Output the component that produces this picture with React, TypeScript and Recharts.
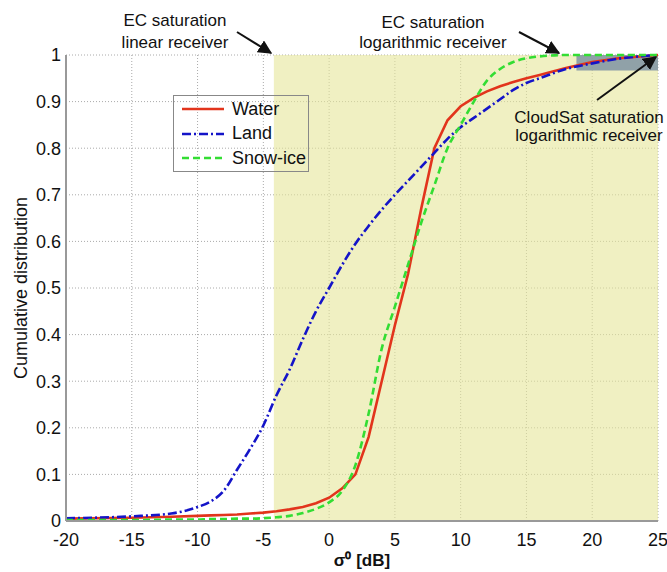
import { CartesianGrid, ComposedChart, Line, ReferenceArea, XAxis, YAxis } from "recharts"

const sigma = [-20, -15, -12, -10, -9, -8, -7, -6, -5, -4, -3, -2, -1, 0, 1, 2, 3, 4, 5, 6, 7, 8, 9, 10, 11, 12, 13, 14, 15, 16, 18, 20, 22, 25]

const water = [
  0.005, 0.007, 0.009, 0.011, 0.012, 0.013, 0.014, 0.016, 0.018, 0.021, 0.025, 0.03, 0.038, 0.05, 0.07, 0.1, 0.18,
  0.3, 0.42, 0.53, 0.67, 0.8, 0.86, 0.89, 0.908, 0.922, 0.933, 0.942, 0.95, 0.957, 0.972, 0.985, 0.993, 1.0,
]

const land = [
  0.006, 0.01, 0.016, 0.03, 0.042, 0.065, 0.11, 0.155, 0.205, 0.27, 0.325, 0.39, 0.45, 0.5, 0.55, 0.595, 0.633, 0.668,
  0.7, 0.73, 0.76, 0.79, 0.82, 0.845, 0.865, 0.885, 0.905, 0.925, 0.94, 0.95, 0.97, 0.982, 0.992, 1.0,
]

const snowIce = [
  0.002, 0.002, 0.003, 0.003, 0.004, 0.004, 0.005, 0.005, 0.006, 0.008, 0.011, 0.017, 0.026, 0.04, 0.065, 0.12, 0.23,
  0.37, 0.46, 0.55, 0.64, 0.72, 0.8, 0.85, 0.9, 0.945, 0.97, 0.985, 0.993, 0.997, 1.0, 1.0, 1.0, 1.0,
]

const xTicks = [-20, -15, -10, -5, 0, 5, 10, 15, 20, 25]
const yTicks = [0, 0.1, 0.2, 0.3, 0.4, 0.5, 0.6, 0.7, 0.8, 0.9, 1]

// shaded zones (dB / cumulative fraction)
const ecLinearSat = -4.2
const cloudSatSat = 18.8
const cloudSatLow = 0.967

const series = [
  { key: "water", name: "Water", color: "#e2341c", dash: undefined, curve: "linear" },
  { key: "land", name: "Land", color: "#1414c8", dash: "9 3 2 3", curve: "monotone" },
  { key: "snow", name: "Snow-ice", color: "#33dd33", dash: "7 4", curve: "monotone" },
]

const data = sigma.map((s, i) => ({ sigma: s, water: water[i], land: land[i], snow: snowIce[i] }))

const font = "'Liberation Sans', Arial, sans-serif"

function LegendBox() {
  return (
    <div
      style={{
        position: "absolute",
        left: 173,
        top: 95,
        width: 136,
        height: 77,
        border: "1px solid #888",
        fontFamily: font,
        fontSize: 18,
        color: "#111",
        boxSizing: "border-box",
        paddingTop: 1,
      }}
    >
      {series.map((s) => (
        <div key={s.key} style={{ display: "flex", alignItems: "center", height: 24.5 }}>
          <svg width={52} height={10} style={{ marginLeft: 6 }}>
            <line x1={2} x2={44} y1={5} y2={5} stroke={s.color} strokeWidth={2.5} strokeDasharray={s.dash} />
          </svg>
          <span>{s.name}</span>
        </div>
      ))}
    </div>
  )
}

export default function App() {
  return (
    <div style={{ position: "absolute", left: 0, top: 0, width: 667, height: 572, background: "#fff", fontFamily: font }}>
      <ComposedChart width={667} height={572} data={data} margin={{ top: 55, right: 9, bottom: 0, left: 0 }}>
        <CartesianGrid stroke="#aaa" strokeDasharray="1 2" strokeWidth={1} />
        <ReferenceArea x1={ecLinearSat} x2={25} y1={0} y2={1} fill="#e6e69a" fillOpacity={0.6} stroke="none" />
        <XAxis
          type="number"
          dataKey="sigma"
          domain={[-20, 25]}
          ticks={xTicks}
          interval={0}
          height={51}
          stroke="#999"
          strokeWidth={2}
          tickLine={false}
          tickMargin={6}
          tick={{ fill: "#111", fontSize: 18 }}
          label={{ value: "σ⁰ [dB]", position: "insideBottom", offset: 6, fill: "#111", fontSize: 17, fontWeight: "bold" }}
        />
        <YAxis
          type="number"
          domain={[0, 1]}
          ticks={yTicks}
          interval={0}
          width={66}
          stroke="#999"
          strokeWidth={2}
          tickLine={false}
          tickSize={3}
          tick={{ fill: "#111", fontSize: 18 }}
          tickFormatter={(v: number) => (v === 0 || v === 1 ? String(v) : v.toFixed(1))}
        />
        {series.map((s) => (
          <Line
            key={s.key}
            type={s.curve as "linear" | "monotone"}
            dataKey={s.key}
            name={s.name}
            stroke={s.color}
            strokeWidth={2.6}
            strokeDasharray={s.dash}
            dot={false}
            activeDot={false}
            isAnimationActive={false}
          />
        ))}
        <ReferenceArea
          x1={cloudSatSat}
          x2={25}
          y1={cloudSatLow}
          y2={1}
          fill="#7f93a3"
          fillOpacity={0.85}
          stroke="none"
          ifOverflow="visible"
        />
      </ComposedChart>
      <LegendBox />
      <svg width={667} height={572} style={{ position: "absolute", left: 0, top: 0, pointerEvents: "none" }}>
        <defs>
          <marker id="arr" viewBox="0 0 10 10" refX={9} refY={5} markerWidth={7} markerHeight={7} orient="auto">
            <path d="M0,0 L10,5 L0,10 z" fill="#111" />
          </marker>
        </defs>
        <g fontFamily={font} fontSize={17} fill="#111" textAnchor="middle">
          <text x={175} y={26}>EC saturation</text>
          <text x={175} y={48}>linear receiver</text>
          <text x={433} y={28}>EC saturation</text>
          <text x={433} y={48}>logarithmic receiver</text>
          <text x={589} y={123}>CloudSat saturation</text>
          <text x={589} y={141}>logarithmic receiver</text>
          <text x={22} y={288} transform="rotate(-90 22 288)" dominantBaseline="middle" fontSize={18}>
            Cumulative distribution
          </text>
        </g>
        <g stroke="#111" strokeWidth={2}>
          <line x1={237} y1={32} x2={271} y2={53} markerEnd="url(#arr)" />
          <line x1={519} y1={32} x2={559} y2={53} markerEnd="url(#arr)" />
          <line x1={597} y1={100} x2={656} y2={57} markerEnd="url(#arr)" />
        </g>
      </svg>
    </div>
  )
}
